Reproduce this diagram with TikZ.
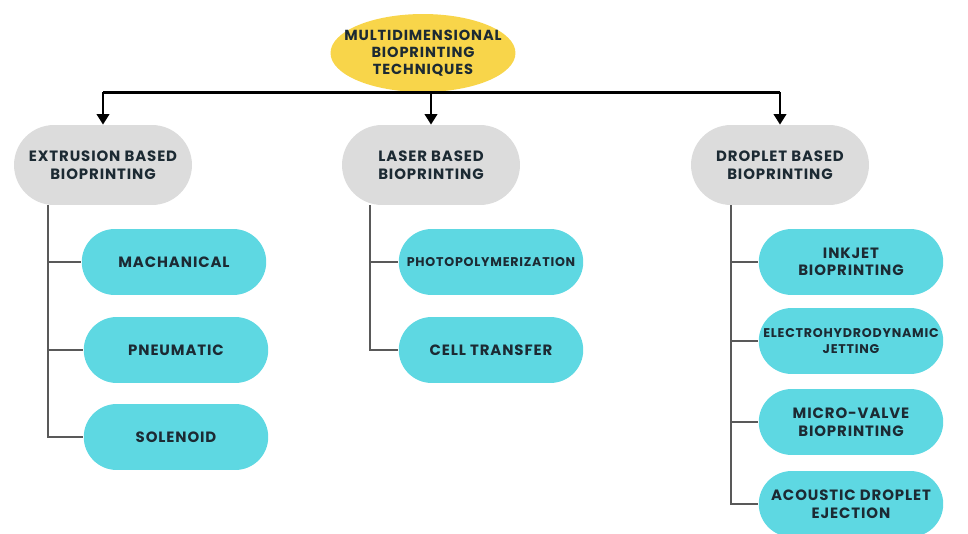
\documentclass[tikz,border=0pt]{standalone}
\usepackage{fontspec}
\setmainfont{Poppins}[LetterSpace=6]
\usepackage{xcolor}
\usetikzlibrary{arrows.meta,shapes.misc,shapes.geometric,calc}
\definecolor{rootyellow}{HTML}{F8D54A}
\definecolor{groupgray}{HTML}{DCDCDC}
\definecolor{leafcyan}{HTML}{5ED8E2}
\definecolor{inkdark}{HTML}{1C2A33}
\newcommand{\tightline}[1]{\makebox[2.2cm][c]{#1}}
\tikzset{
  bp root/.style={
    ellipse,
    minimum width=3.7cm,
    minimum height=1.56cm,
    fill=rootyellow,
    text=inkdark,
    font=\bfseries\fontsize{8.3}{9.6}\selectfont,
    align=center,
    inner xsep=-8pt,
    inner ysep=1pt,
  },
  bp group/.style={
    rounded rectangle,
    minimum width=3.7cm,
    minimum height=1.6cm,
    fill=groupgray,
    text=inkdark,
    font=\bfseries\fontsize{8.5}{10}\selectfont,
    align=center,
    inner sep=2pt,
  },
  bp leaf/.style={
    rounded rectangle,
    minimum width=3.76cm,
    minimum height=1.32cm,
    fill=leafcyan,
    text=inkdark,
    font=\bfseries\fontsize{8.5}{10}\selectfont,
    align=center,
    inner sep=1pt,
  },
  bp small/.style={font=\bfseries\fontsize{7.2}{9}\selectfont},
  bp arrow/.style={-{Triangle[length=6pt,width=7pt]}, line width=1.6pt, black},
  bp line/.style={line width=1.6pt, black},
  bp branch/.style={line width=1.2pt, black!65},
}

\begin{document}
\begin{tikzpicture}[x=0.02cm,y=-0.02cm]
  \useasboundingbox (0,0) rectangle (968,534);

  % root and the three families
  \node[bp root] (root) at (423,53) {MULTIDIMENSIONAL\\BIOPRINTING\\TECHNIQUES};
  \node[bp group] (extr) at (103,165) {EXTRUSION BASED\\BIOPRINTING};
  \node[bp group] (laser) at (431,165) {LASER BASED\\BIOPRINTING};
  \node[bp group] (drop) at (780,165) {DROPLET BASED\\BIOPRINTING};

  % extrusion
  \node[bp leaf] (mech) at (174,262) {MACHANICAL};
  \node[bp leaf] (pneu) at (176,350) {PNEUMATIC};
  \node[bp leaf] (sole) at (176,437) {SOLENOID};

  % laser
  \node[bp leaf,bp small] (photo) at (491,262) {\tightline{PHOTOPOLYMERIZATION}};
  \node[bp leaf] (cell) at (491,350) {CELL TRANSFER};

  % droplet
  \node[bp leaf] (inkjet) at (851,262) {INKJET\\BIOPRINTING};
  \node[bp leaf,bp small] (ehd) at (851,341) {\tightline{ELECTROHYDRODYNAMIC}\\JETTING};
  \node[bp leaf] (valve) at (851,422) {MICRO-VALVE\\BIOPRINTING};
  \node[bp leaf] (acou) at (851,504) {ACOUSTIC DROPLET\\EJECTION};

  % top bar and arrows
  \draw[bp line] (root.south -| extr.north) -- (root.south -| drop.north);
  \foreach \g in {extr,laser,drop}
    \draw[bp arrow] (root.south -| \g.north) -- (\g.north);

  % branches
  \foreach \c in {mech,pneu,sole}
    \draw[bp branch] ($(extr.south)+(-55,0)$) |- (\c.west);
  \foreach \c in {photo,cell}
    \draw[bp branch] ($(laser.south)+(-61,0)$) |- (\c.west);
  \foreach \c in {inkjet,ehd,valve,acou}
    \draw[bp branch] ($(drop.south)+(-49,0)$) |- (\c.west);
\end{tikzpicture}
\end{document}
